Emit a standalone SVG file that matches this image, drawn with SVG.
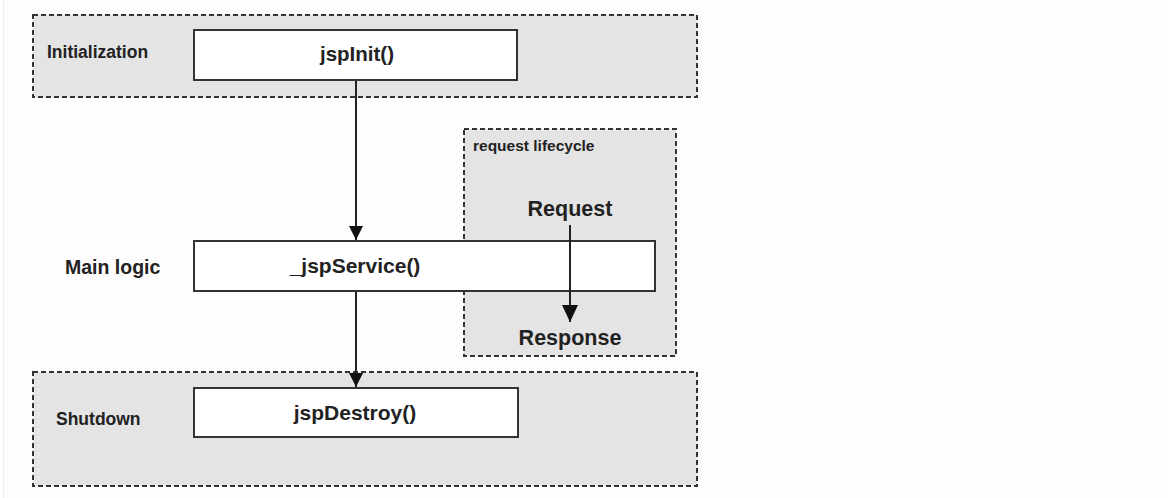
<svg xmlns="http://www.w3.org/2000/svg" width="1168" height="498" viewBox="0 0 1168 498">
<defs>
<style>
.grp{fill:#e4e4e4;stroke:#333;stroke-width:2;stroke-dasharray:5 3}
.box{fill:#fff;stroke:#333;stroke-width:2}
.t{font-family:"Liberation Sans",Arial,sans-serif;font-weight:bold;fill:#222}
.edge{stroke:#222;stroke-width:2;fill:none}
</style>
<marker id="ah" markerUnits="userSpaceOnUse" markerWidth="15" markerHeight="14" refX="14" refY="7" orient="auto">
<path d="M0,0 L14,7 L0,14 z" fill="#111"/>
</marker>
<marker id="ahb" markerUnits="userSpaceOnUse" markerWidth="18" markerHeight="17" refX="17" refY="8" orient="auto">
<path d="M0,0 L17,8 L0,16 z" fill="#111"/>
</marker>
</defs>
<rect width="1168" height="498" fill="#fdfdfd"/>
<line x1="3.5" y1="0" x2="3.5" y2="498" stroke="#ececec" stroke-width="1"/>
<g id="initialization">
<rect class="grp" x="33" y="15" width="664" height="82"/>
<text class="t" x="47" y="58" font-size="17.5">Initialization</text>
</g>
<g id="request-lifecycle">
<rect class="grp" x="464" y="129" width="212" height="227"/>
<text class="t" x="473" y="151" font-size="15.5">request lifecycle</text>
<text class="t" x="570" y="216" font-size="21.5" text-anchor="middle">Request</text>
<text class="t" x="570" y="345" font-size="21.5" text-anchor="middle">Response</text>
</g>
<g id="shutdown">
<rect class="grp" x="33" y="372" width="664" height="114"/>
<text class="t" x="56" y="425" font-size="17.5">Shutdown</text>
</g>
<g id="jspInit">
<rect class="box" x="194" y="30" width="323" height="50"/>
<text class="t" x="357" y="61" font-size="20.5" text-anchor="middle">jspInit()</text>
</g>
<g id="main-logic">
<text class="t" x="65" y="274" font-size="19.5">Main logic</text>
</g>
<g id="jspService">
<rect class="box" x="194" y="241" width="461" height="50"/>
<text class="t" x="355" y="273" font-size="21" text-anchor="middle">_jspService()</text>
</g>
<g id="jspDestroy">
<rect class="box" x="194" y="388" width="324" height="49"/>
<text class="t" x="355" y="420" font-size="21" text-anchor="middle">jspDestroy()</text>
</g>
<g id="connectors">
<line class="edge" x1="356" y1="81" x2="356" y2="240" marker-end="url(#ah)"/>
<line class="edge" x1="356" y1="292" x2="356" y2="387" marker-end="url(#ah)"/>
<line class="edge" x1="570" y1="225" x2="570" y2="322" stroke-width="3" marker-end="url(#ahb)"/>
</g>
</svg>
